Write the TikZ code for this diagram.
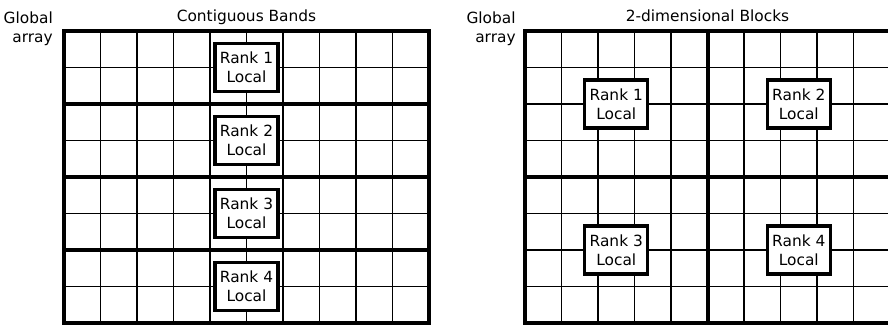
\documentclass[tikz,border=0pt]{standalone}
\usepackage{fontspec}
\setmainfont{DejaVu Sans}
\usepackage{tikz}
\usetikzlibrary{positioning}
\usepackage{xcolor}
\definecolor{gridblack}{HTML}{000000}
\tikzset{
  gridthin/.style={draw=gridblack, line width=1.3pt},
  gridthick/.style={draw=gridblack, line width=3.1pt},
  rankbox/.style={rectangle, draw=gridblack, fill=white, line width=2.6pt,
                  minimum width=1.73cm, minimum height=1.32cm, inner sep=0pt,
                  align=center, font=\fontsize{12}{14.5}\selectfont},
  arraytitle/.style={font=\fontsize{12}{14.5}\selectfont, inner sep=0pt},
  arraylabel/.style={font=\fontsize{12}{14.5}\selectfont, inner sep=0pt,
                     align=right, anchor=north east},
}

\begin{document}
\begin{tikzpicture}[x=1cm, y=1cm]
  \useasboundingbox (-1.753,-0.027) rectangle (22.575,8.85);

  % --- Contiguous bands (left) ---
  \draw[gridthin] (0,0) grid (10,8);
  \foreach \y in {2,4,6}{\draw[gridthick] (0,\y) -- (10,\y);}
  \draw[gridthick] (0,0) rectangle (10,8);

  \node[arraytitle, anchor=base] (bandtitle) at (5,8.27) {Contiguous Bands};
  \node[arraylabel] (bandglobal) at (-0.3,8.52) {Global\\array};

  \foreach \r/\y in {1/7,2/5,3/3,4/1}{
    \node[rankbox] (band\r) at (5,\y) {Rank \r\\Local};
  }

  % --- 2-dimensional blocks (right) ---
  \begin{scope}[xshift=12.63cm]
    \draw[gridthin] (0,0) grid (10,8);
    \draw[gridthick] (5,0) -- (5,8);
    \draw[gridthick] (0,4) -- (10,4);
    \draw[gridthick] (0,0) rectangle (10,8);

    \node[arraytitle, anchor=base] (blocktitle) at (5,8.27) {2-dimensional Blocks};
    \node[arraylabel] (blockglobal) at (-0.25,8.52) {Global\\array};

    \foreach \r/\x/\y in {1/2.5/6,2/7.5/6,3/2.5/2,4/7.5/2}{
      \node[rankbox] (block\r) at (\x,\y) {Rank \r\\Local};
    }
  \end{scope}

\end{tikzpicture}
\end{document}
